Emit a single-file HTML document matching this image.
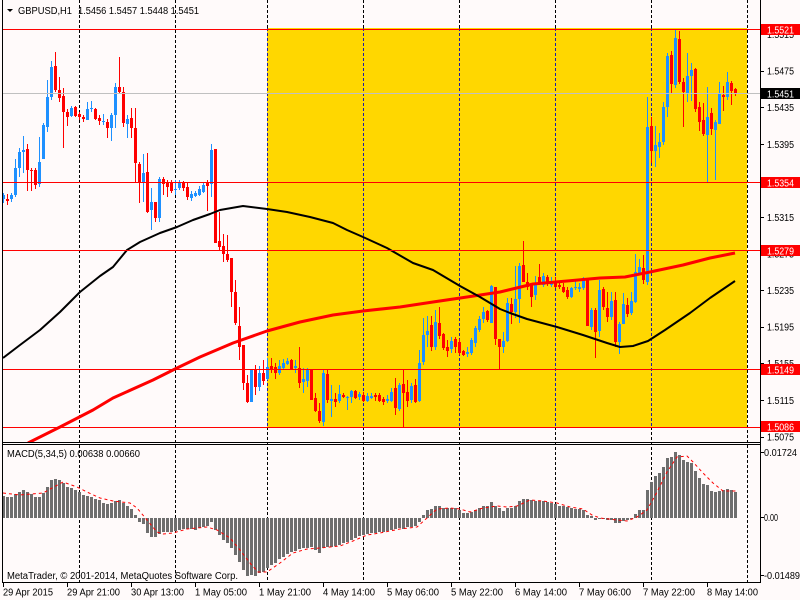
<!DOCTYPE html>
<html><head><meta charset="utf-8"><style>html,body{margin:0;padding:0;background:#FFFAFA;overflow:hidden}svg{display:block}</style></head>
<body>
<svg width="800" height="600" viewBox="0 0 800 600" xmlns="http://www.w3.org/2000/svg" font-family="'Liberation Sans', sans-serif" font-size="10">
<defs><clipPath id="mc"><rect x="3" y="0" width="757" height="442"/></clipPath></defs>
<rect x="0" y="0" width="800" height="600" fill="#FFFAFA"/>
<rect x="267" y="28" width="480" height="399" fill="#FFD700"/>
<g stroke-width="1" fill="none" stroke-dasharray="3,2" shape-rendering="crispEdges">
<path stroke="#000" d="M79.5 0V582M175.5 0V582M747.5 0V582M267.5 0V28M267.5 427V582M363.5 0V28M363.5 427V582M459.5 0V28M459.5 427V582M555.5 0V28M555.5 427V582M651.5 0V28M651.5 427V582"/>
<path stroke="#1c1ca8" d="M267.5 28V427M363.5 28V427M459.5 28V427M555.5 28V427M651.5 28V427"/>
</g>
<g shape-rendering="crispEdges">
<path fill="none" stroke="#1E90FF" stroke-width="1" d="M3.5 193V203M11.5 193V202M15.5 159V197M19.5 148V177M23.5 136V173M39.5 137V187M43.5 123V159M47.5 80V132M51.5 61V100M71.5 106V117M87.5 102V120M91.5 101V112M103.5 114V125M111.5 113V141M115.5 83V128M127.5 115V138M143.5 154V202M151.5 188V230M159.5 177V222M175.5 180V195M179.5 180V190M191.5 191V201M195.5 191V197M199.5 186V196M203.5 183V193M211.5 144V197M251.5 369V402M259.5 366V391M267.5 358V380M279.5 360V375M283.5 359V370M287.5 358V365M295.5 360V373M303.5 368V393M307.5 368V387M323.5 370V426M331.5 385V417M339.5 385V403M347.5 396V410M351.5 390V403M359.5 392V400M367.5 393V402M371.5 393V399M387.5 395V403M391.5 388V402M399.5 383V411M411.5 383V403M419.5 350V402M423.5 318V365M427.5 316V347M435.5 310V350M451.5 337V353M467.5 347V357M471.5 338V355M475.5 326V347M479.5 316V332M483.5 307V323M491.5 285V323M503.5 332V353M507.5 298V342M515.5 266V318M519.5 263V323M535.5 276V300M543.5 273V287M551.5 277V287M571.5 287V298M575.5 280V290M579.5 283V292M583.5 277V290M591.5 308V330M599.5 280V337M611.5 292V320M619.5 322V354M623.5 293V324M631.5 292V315M635.5 254V303M639.5 259V275M647.5 97V285M655.5 126V167M659.5 133V158M663.5 102V145M667.5 53V117M675.5 29V88M687.5 53V102M691.5 63V101M707.5 87V183M715.5 120V180M719.5 82V124M727.5 72V100"/>
<path fill="#1E90FF" d="M2 195h3v4h-3zM10 195h3v4h-3zM14 168h3v27h-3zM18 152h3v16h-3zM22 150h3v2h-3zM38 162h3v22h-3zM42 125h3v34h-3zM46 97h3v30h-3zM50 67h3v30h-3zM70 108h3v8h-3zM86 109h3v11h-3zM90 108h3v1h-3zM102 121h3v1h-3zM110 115h3v13h-3zM114 87h3v28h-3zM126 119h3v5h-3zM142 173h3v9h-3zM150 202h3v8h-3zM158 179h3v39h-3zM174 189h3v1h-3zM178 183h3v5h-3zM190 194h3v4h-3zM194 193h3v3h-3zM198 189h3v6h-3zM202 185h3v7h-3zM210 150h3v34h-3zM250 369h3v33h-3zM258 373h3v14h-3zM266 367h3v12h-3zM278 366h3v7h-3zM282 363h3v5h-3zM286 361h3v3h-3zM294 366h3v2h-3zM302 379h3v3h-3zM306 369h3v12h-3zM322 373h3v49h-3zM330 399h3v2h-3zM338 394h3v7h-3zM346 397h3v1h-3zM350 391h3v6h-3zM358 394h3v3h-3zM366 396h3v5h-3zM370 396h3v2h-3zM386 399h3v2h-3zM390 392h3v9h-3zM398 385h3v24h-3zM410 386h3v14h-3zM418 363h3v38h-3zM422 335h3v27h-3zM426 331h3v4h-3zM434 322h3v25h-3zM450 341h3v8h-3zM466 352h3v2h-3zM470 340h3v13h-3zM474 328h3v15h-3zM478 319h3v11h-3zM482 312h3v7h-3zM490 286h3v37h-3zM502 341h3v6h-3zM506 303h3v38h-3zM514 299h3v13h-3zM518 266h3v33h-3zM534 283h3v12h-3zM542 276h3v9h-3zM550 282h3v3h-3zM570 288h3v9h-3zM574 287h3v1h-3zM578 287h3v2h-3zM582 278h3v10h-3zM590 310h3v17h-3zM598 290h3v41h-3zM610 301h3v16h-3zM618 324h3v18h-3zM622 304h3v20h-3zM630 301h3v12h-3zM634 272h3v30h-3zM638 267h3v6h-3zM646 127h3v155h-3zM654 145h3v6h-3zM658 142h3v5h-3zM662 107h3v35h-3zM666 56h3v51h-3zM674 38h3v47h-3zM686 76h3v17h-3zM690 70h3v6h-3zM706 117h3v18h-3zM714 122h3v8h-3zM718 94h3v30h-3zM726 82h3v15h-3z"/>
<path fill="none" stroke="#FF0000" stroke-width="1" d="M7.5 194V205M27.5 144V191M31.5 168V191M35.5 168V189M55.5 52V92M59.5 77V102M63.5 88V148M67.5 109V126M75.5 106V117M79.5 112V120M83.5 115V122M95.5 108V120M99.5 115V125M107.5 119V138M119.5 57V93M123.5 87V127M131.5 108V138M135.5 108V182M139.5 162V203M147.5 153V213M155.5 202V222M163.5 177V195M167.5 180V197M171.5 180V193M183.5 181V191M187.5 183V200M207.5 180V211M215.5 149V243M219.5 212V250M223.5 234V262M227.5 235V262M231.5 258V307M235.5 280V325M239.5 307V360M243.5 345V390M247.5 375V403M255.5 365V395M263.5 360V385M271.5 358V373M275.5 363V379M291.5 359V370M299.5 347V388M311.5 370V400M315.5 393V412M319.5 403V423M327.5 370V403M335.5 393V407M343.5 393V398M355.5 390V399M363.5 392V402M375.5 393V401M379.5 393V402M383.5 397V405M395.5 378V415M403.5 370V427M407.5 380V407M415.5 379V403M431.5 316V351M439.5 307V339M443.5 333V350M447.5 340V357M455.5 337V353M459.5 339V355M463.5 350V356M487.5 310V322M495.5 287V345M499.5 339V369M511.5 298V324M523.5 241V282M527.5 273V290M531.5 283V307M539.5 264V285M547.5 275V286M555.5 277V288M559.5 283V289M563.5 283V293M567.5 287V299M587.5 278V326M595.5 308V358M603.5 287V310M607.5 292V322M615.5 292V347M627.5 298V317M643.5 255V284M651.5 117V163M671.5 51V94M679.5 31V84M683.5 78V127M695.5 68V112M699.5 102V131M703.5 103V136M711.5 108V135M723.5 86V111M731.5 81V105M735.5 88V96"/>
<path fill="#FF0000" d="M6 199h3v2h-3zM26 149h3v21h-3zM30 170h3v1h-3zM34 170h3v15h-3zM54 66h3v24h-3zM58 90h3v8h-3zM62 96h3v16h-3zM66 112h3v5h-3zM74 107h3v9h-3zM78 114h3v3h-3zM82 117h3v2h-3zM94 109h3v10h-3zM98 118h3v3h-3zM106 122h3v6h-3zM118 87h3v5h-3zM122 92h3v31h-3zM130 118h3v10h-3zM134 128h3v35h-3zM138 164h3v18h-3zM146 172h3v40h-3zM154 202h3v16h-3zM162 179h3v5h-3zM166 183h3v4h-3zM170 182h3v9h-3zM182 183h3v5h-3zM186 187h3v10h-3zM206 182h3v4h-3zM214 149h3v94h-3zM218 241h3v6h-3zM222 246h3v8h-3zM226 254h3v6h-3zM230 258h3v34h-3zM234 292h3v31h-3zM238 326h3v21h-3zM242 345h3v38h-3zM246 383h3v19h-3zM254 369h3v18h-3zM262 373h3v8h-3zM270 366h3v4h-3zM274 367h3v6h-3zM290 360h3v9h-3zM298 368h3v15h-3zM310 370h3v30h-3zM314 398h3v13h-3zM318 411h3v10h-3zM326 374h3v26h-3zM334 399h3v3h-3zM342 395h3v2h-3zM354 391h3v7h-3zM362 395h3v6h-3zM374 395h3v2h-3zM378 395h3v6h-3zM382 399h3v3h-3zM394 388h3v20h-3zM402 384h3v9h-3zM406 392h3v9h-3zM414 385h3v17h-3zM430 325h3v22h-3zM438 323h3v13h-3zM442 334h3v14h-3zM446 347h3v4h-3zM454 339h3v8h-3zM458 342h3v11h-3zM462 351h3v4h-3zM486 311h3v9h-3zM494 287h3v52h-3zM498 339h3v8h-3zM510 304h3v8h-3zM522 265h3v17h-3zM526 282h3v5h-3zM530 285h3v12h-3zM538 277h3v7h-3zM546 277h3v7h-3zM554 282h3v5h-3zM558 285h3v2h-3zM562 287h3v5h-3zM566 290h3v7h-3zM586 278h3v48h-3zM594 310h3v22h-3zM602 289h3v18h-3zM606 308h3v9h-3zM614 300h3v42h-3zM626 305h3v9h-3zM642 268h3v12h-3zM650 126h3v25h-3zM670 55h3v29h-3zM678 39h3v43h-3zM682 82h3v10h-3zM694 69h3v40h-3zM698 107h3v15h-3zM702 120h3v14h-3zM710 113h3v16h-3zM722 95h3v2h-3zM730 83h3v8h-3zM734 89h3v4h-3z"/>
</g>
<g clip-path="url(#mc)" fill="none" stroke-linejoin="round">
<polyline stroke="#FF0000" stroke-width="3" points="28,443 60,427 93,410 113,398 153,380 175,369 200,357 233,343 267,331 300,322 333,315 363,311 400,307 433,302 467,297 500,292 533,284 567,281 600,278 625,277 650,272 683,265 710,258 735,253"/>
<polyline stroke="#000" stroke-width="2" points="3,358 20,345 40,330 60,312 80,292 100,276 113,267 127,250 140,242 160,233 177,227 193,220 210,214 220,210 243,206 267,209 287,212 310,217 333,223 347,230 363,237 387,248 413,263 433,270 460,286 480,297 500,309 510,313 527,319 557,327 583,335 607,343 620,347 633,346 648,341 665,330 690,313 710,298 735,281"/>
</g>
<g shape-rendering="crispEdges" stroke-width="1" fill="none">
<path stroke="#C0C0C0" d="M3 93.5H760"/>
<path stroke="#FF0000" d="M3 29.5H760M3 182.5H760M3 250.5H760M3 369.5H760M3 427.5H760"/>
</g>
<path fill="none" stroke="#6e6e6e" stroke-width="3" shape-rendering="crispEdges" d="M3.5 518V496M7.5 518V497M11.5 518V497M15.5 518V494M19.5 518V492M23.5 518V490M27.5 518V492M31.5 518V494M35.5 518V497M39.5 518V497M43.5 518V493M47.5 518V487M51.5 518V480M55.5 518V479M59.5 518V480M63.5 518V483M67.5 518V487M71.5 518V488M75.5 518V490M79.5 518V492M83.5 518V495M87.5 518V496M91.5 518V497M95.5 518V499M99.5 518V500M103.5 518V503M107.5 518V504M111.5 518V503M115.5 518V501M119.5 518V500M123.5 518V503M127.5 518V506M131.5 518V509M135.5 518V515M139.5 518V522M143.5 518V524M147.5 518V533M151.5 518V537M155.5 518V537M159.5 518V534M163.5 518V532M167.5 518V532M171.5 518V532M175.5 518V531M179.5 518V530M183.5 518V529M187.5 518V529M191.5 518V529M195.5 518V530M199.5 518V528M203.5 518V527M207.5 518V526M211.5 518V522M215.5 518V530M219.5 518V535M223.5 518V540M227.5 518V543M231.5 518V548M235.5 518V555M239.5 518V562M243.5 518V570M247.5 518V576M251.5 518V575M255.5 518V576M259.5 518V573M263.5 518V572M267.5 518V568M271.5 518V565M275.5 518V563M279.5 518V559M283.5 518V557M287.5 518V554M291.5 518V552M295.5 518V551M299.5 518V549M303.5 518V548M307.5 518V548M311.5 518V547M315.5 518V550M319.5 518V553M323.5 518V548M327.5 518V547M331.5 518V547M335.5 518V546M339.5 518V545M343.5 518V543M347.5 518V542M351.5 518V540M355.5 518V538M359.5 518V536M363.5 518V535M367.5 518V534M371.5 518V533M375.5 518V533M379.5 518V532M383.5 518V532M387.5 518V531M391.5 518V530M395.5 518V529M399.5 518V528M403.5 518V529M407.5 518V527M411.5 518V527M415.5 518V526M419.5 518V522M423.5 518V515M427.5 518V510M431.5 518V509M435.5 518V506M439.5 518V506M443.5 518V508M447.5 518V508M451.5 518V508M455.5 518V508M459.5 518V510M463.5 518V513M467.5 518V513M471.5 518V512M475.5 518V510M479.5 518V508M483.5 518V506M487.5 518V506M491.5 518V502M495.5 518V506M499.5 518V508M503.5 518V511M507.5 518V508M511.5 518V508M515.5 518V506M519.5 518V501M523.5 518V499M527.5 518V499M531.5 518V500M535.5 518V501M539.5 518V501M543.5 518V501M547.5 518V502M551.5 518V503M555.5 518V504M559.5 518V506M563.5 518V506M567.5 518V507M571.5 518V508M575.5 518V509M579.5 518V509M583.5 518V510M587.5 518V515M591.5 518V516M595.5 518V520M599.5 518V519M603.5 518V519M607.5 518V520M611.5 518V520M615.5 518V523M619.5 518V523M623.5 518V521M627.5 518V520M631.5 518V519M635.5 518V514M639.5 518V510M643.5 518V510M647.5 518V490M651.5 518V482M655.5 518V476M659.5 518V473M663.5 518V467M667.5 518V458M671.5 518V457M675.5 518V452M679.5 518V455M683.5 518V460M687.5 518V462M691.5 518V463M695.5 518V471M699.5 518V478M703.5 518V484M707.5 518V485M711.5 518V491M715.5 518V492M719.5 518V491M723.5 518V490M727.5 518V489M731.5 518V490M735.5 518V492"/>
<polyline fill="none" stroke="#FF0000" stroke-width="1" stroke-dasharray="3,3" points="3,493 20,495 43,493 63,482 77,487 87,492 100,498 113,501 130,503 137,508 147,520 157,532 163,534 173,533 187,529 207,527 217,530 230,538 240,550 250,563 258,572 267,572 280,563 293,553 307,549 320,548 340,546 353,541 367,535 380,533 400,529 417,527 427,518 437,509 450,508 460,509 470,512 483,508 497,506 507,507 517,506 530,500 543,501 557,503 570,507 583,509 592,515 600,518 617,520 627,521 637,517 647,510 657,492 667,472 677,457 687,456 693,462 703,473 713,483 723,491 737,491"/>
<g stroke="#000" stroke-width="1" fill="none" shape-rendering="crispEdges">
<path d="M2.5 0V582M760.5 0V582M2 442.5H761M2 444.5H761M2 582.5H761"/>
<path d="M760 34.5H764M760 71.5H764M760 107.5H764M760 144.5H764M760 181.5H764M760 217.5H764M760 254.5H764M760 290.5H764M760 327.5H764M760 363.5H764M760 400.5H764M760 437.5H764M760 452.5H764M760 517.5H764M760 575.5H764"/>
<path d="M3.5 583V587M67.5 583V587M131.5 583V587M195.5 583V587M259.5 583V587M323.5 583V587M387.5 583V587M451.5 583V587M515.5 583V587M579.5 583V587M643.5 583V587M707.5 583V587"/>
</g>
<polygon points="7,9 13,9 10,12" fill="#000"/>
<g fill="#000" lengthAdjust="spacingAndGlyphs">
<text x="18" y="14" textLength="54" lengthAdjust="spacingAndGlyphs">GBPUSD,H1</text>
<text x="78" y="14" textLength="121" lengthAdjust="spacingAndGlyphs">1.5456 1.5457 1.5448 1.5451</text>
<text x="7" y="457" textLength="133" lengthAdjust="spacingAndGlyphs">MACD(5,34,5) 0.00638 0.00660</text>
<text x="7" y="579" textLength="231" lengthAdjust="spacingAndGlyphs">MetaTrader, © 2001-2014, MetaQuotes Software Corp.</text>
<text x="767" y="38" textLength="27" lengthAdjust="spacingAndGlyphs">1.5515</text>
<text x="767" y="74.5" textLength="27" lengthAdjust="spacingAndGlyphs">1.5475</text>
<text x="767" y="111" textLength="27" lengthAdjust="spacingAndGlyphs">1.5435</text>
<text x="767" y="148" textLength="27" lengthAdjust="spacingAndGlyphs">1.5395</text>
<text x="767" y="184.5" textLength="27" lengthAdjust="spacingAndGlyphs">1.5355</text>
<text x="767" y="221" textLength="27" lengthAdjust="spacingAndGlyphs">1.5315</text>
<text x="767" y="257.5" textLength="27" lengthAdjust="spacingAndGlyphs">1.5275</text>
<text x="767" y="294" textLength="27" lengthAdjust="spacingAndGlyphs">1.5235</text>
<text x="767" y="330.5" textLength="27" lengthAdjust="spacingAndGlyphs">1.5195</text>
<text x="767" y="367" textLength="27" lengthAdjust="spacingAndGlyphs">1.5155</text>
<text x="767" y="404" textLength="27" lengthAdjust="spacingAndGlyphs">1.5115</text>
<text x="767" y="440.5" textLength="27" lengthAdjust="spacingAndGlyphs">1.5075</text>
<text x="764" y="456" textLength="33" lengthAdjust="spacingAndGlyphs">0.01724</text>
<text x="764" y="521" textLength="14" lengthAdjust="spacingAndGlyphs">0.00</text>
<text x="764" y="579" textLength="36" lengthAdjust="spacingAndGlyphs">-0.01489</text>
<text x="3" y="595.5" textLength="50" lengthAdjust="spacingAndGlyphs">29 Apr 2015</text>
<text x="67" y="595.5" textLength="53" lengthAdjust="spacingAndGlyphs">29 Apr 21:00</text>
<text x="131" y="595.5" textLength="53" lengthAdjust="spacingAndGlyphs">30 Apr 13:00</text>
<text x="195" y="595.5" textLength="52" lengthAdjust="spacingAndGlyphs">1 May 05:00</text>
<text x="259" y="595.5" textLength="52" lengthAdjust="spacingAndGlyphs">1 May 21:00</text>
<text x="323" y="595.5" textLength="52" lengthAdjust="spacingAndGlyphs">4 May 14:00</text>
<text x="387" y="595.5" textLength="52" lengthAdjust="spacingAndGlyphs">5 May 06:00</text>
<text x="451" y="595.5" textLength="52" lengthAdjust="spacingAndGlyphs">5 May 22:00</text>
<text x="515" y="595.5" textLength="52" lengthAdjust="spacingAndGlyphs">6 May 14:00</text>
<text x="579" y="595.5" textLength="52" lengthAdjust="spacingAndGlyphs">7 May 06:00</text>
<text x="643" y="595.5" textLength="52" lengthAdjust="spacingAndGlyphs">7 May 22:00</text>
<text x="707" y="595.5" textLength="51" lengthAdjust="spacingAndGlyphs">8 May 14:00</text>
</g>
<g shape-rendering="crispEdges">
<rect x="761" y="24" width="39" height="11" fill="#FF0000"/>
<rect x="761" y="88" width="39" height="11" fill="#000"/>
<rect x="761" y="177" width="39" height="11" fill="#FF0000"/>
<rect x="761" y="245" width="39" height="11" fill="#FF0000"/>
<rect x="761" y="364" width="39" height="11" fill="#FF0000"/>
<rect x="761" y="421" width="39" height="11" fill="#FF0000"/>
</g>
<g fill="#FFF">
<text x="767" y="33.5" textLength="27" lengthAdjust="spacingAndGlyphs">1.5521</text>
<text x="767" y="97.5" textLength="27" lengthAdjust="spacingAndGlyphs">1.5451</text>
<text x="767" y="186.5" textLength="27" lengthAdjust="spacingAndGlyphs">1.5354</text>
<text x="767" y="254.5" textLength="27" lengthAdjust="spacingAndGlyphs">1.5279</text>
<text x="767" y="373.5" textLength="27" lengthAdjust="spacingAndGlyphs">1.5149</text>
<text x="767" y="430.5" textLength="27" lengthAdjust="spacingAndGlyphs">1.5086</text>
</g>
</svg>
</body></html>
